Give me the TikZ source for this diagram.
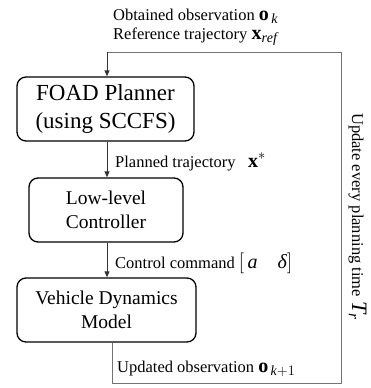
\documentclass[tikz,border=0pt]{standalone}
\usepackage{fontspec}
\setmainfont{Liberation Serif}
\usetikzlibrary{arrows.meta}
\newcommand\mathlbl[1]{{\fontsize{20}{20}\selectfont$#1$}}
\begin{document}
\begin{tikzpicture}[x=1pt,y=-1pt,
  blockbox/.style={draw=black, line width=1.3pt, rounded corners=9pt, align=center, inner sep=0pt},
  bigtext/.style={font=\fontsize{23}{28}\selectfont},
  midtext/.style={font=\fontsize{19.5}{24}\selectfont},
  lbl/.style={font=\fontsize{16.5}{19}\selectfont, anchor=base west, inner sep=0pt},
  feed/.style={draw=black!55, line width=1pt},
  flow/.style={draw=black!80, line width=0.9pt, -{Triangle[length=6pt,width=5pt]}}]
\useasboundingbox (0,0) rectangle (370,388);
\node[blockbox, bigtext, minimum width=177pt, minimum height=64pt] (foad) at (105.5,109) {FOAD Planner\\(using SCCFS)};
\node[blockbox, midtext, minimum width=154pt, minimum height=64pt] (llc) at (106,210) {Low-level\\Controller};
\node[blockbox, midtext, minimum width=179pt, minimum height=64pt] (vdm) at (106.5,310) {Vehicle Dynamics\\Model};
\coordinate (tl) at (107,52);
\coordinate (tr) at (341,52);
\coordinate (br) at (341,383);
\coordinate (bl) at (112,383);
\draw[feed] (bl |- vdm.south) -- (bl) -- (br) -- (tr) -- (tl);
\draw[flow] (tl) -- (tl |- foad.north);
\draw[flow] (foad.south -| tl) -- (llc.north -| tl);
\draw[flow] (llc.south -| tl) -- (vdm.north -| tl);
\node[lbl] (obs) at (113,20) {Obtained observation \mathlbl{\mathbf{o}_{\,\mathit{k}}}};
\node[lbl] (ref) at (113,39) {Reference trajectory \mathlbl{\mathbf{x}_{\mathit{ref}}}};
\node[lbl] (plan) at (115,167) {Planned trajectory \enspace\mathlbl{\mathbf{x}^{*}}};
\node[lbl] (ctrl) at (115,268) {Control command \mathlbl{\bigl[\,\mathit{a}\quad\mbox{\textit{δ}}\bigr]}};
\node[lbl] (upd) at (117,372) {Updated observation \mathlbl{\mathbf{o}_{\,\mathit{k}+1}}};
\node[lbl, rotate=-90] (every) at (352,113) {Update every planning time {\fontsize{22}{24}\selectfont$\mathit{T}_{\mathit{r}}$}};
\end{tikzpicture}
\end{document}
